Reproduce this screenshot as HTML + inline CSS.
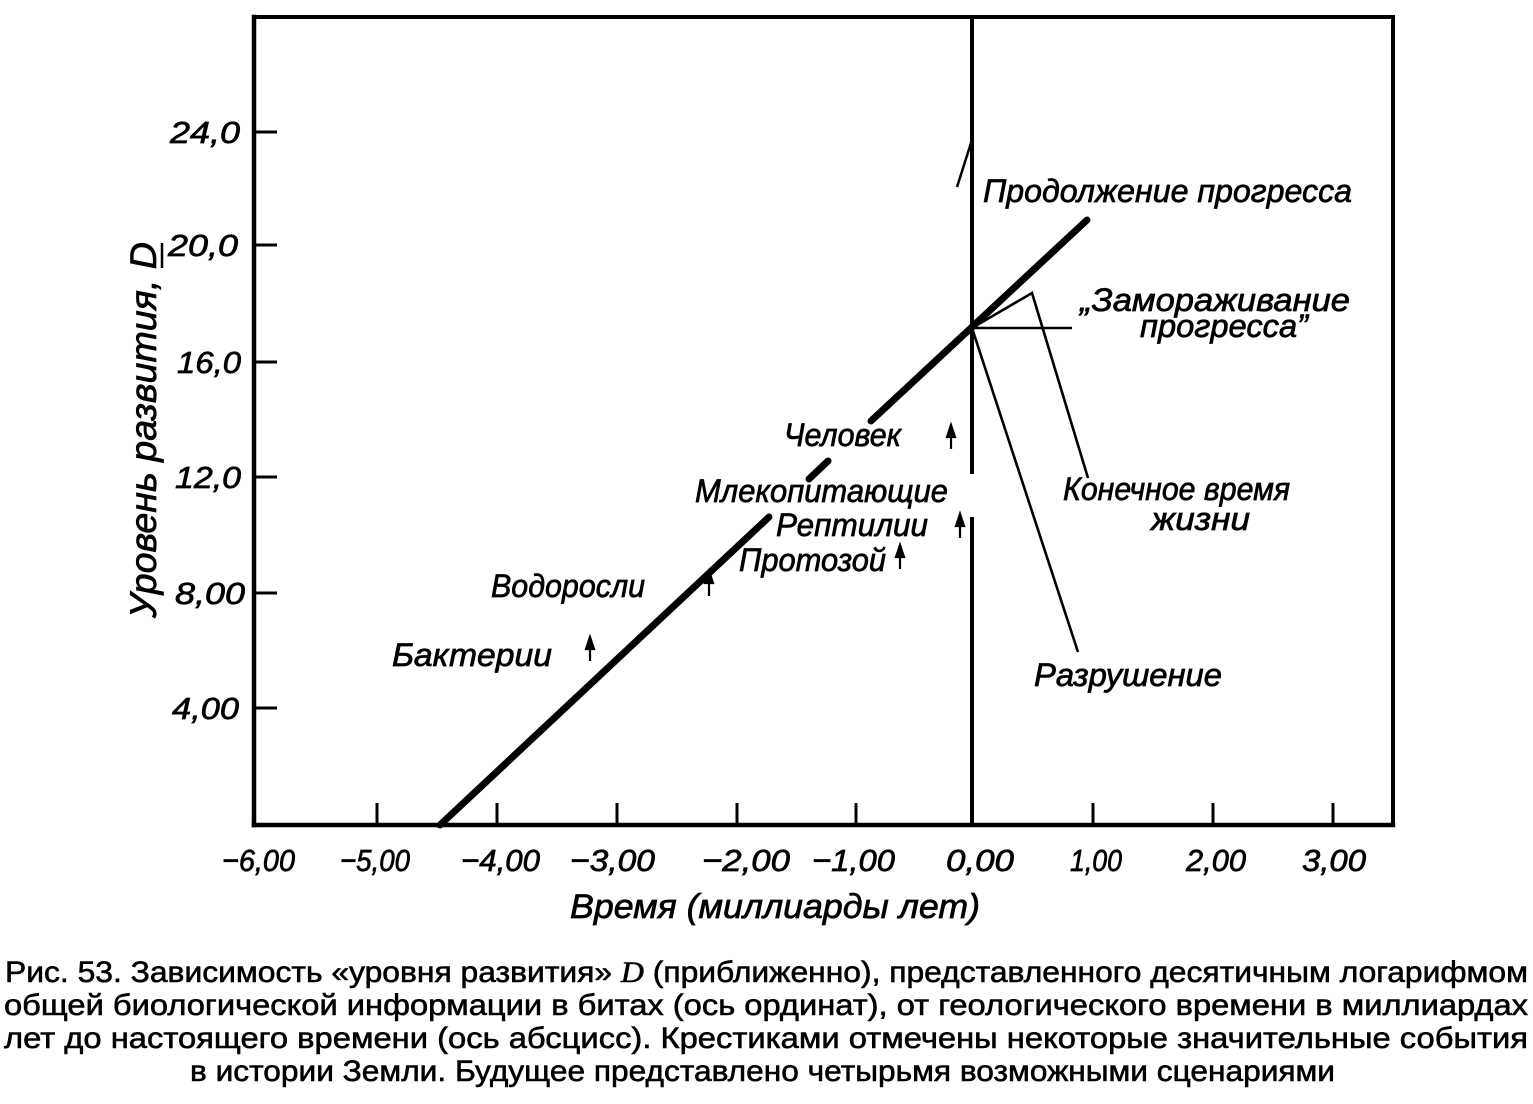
<!DOCTYPE html>
<html>
<head>
<meta charset="utf-8">
<style>
  html,body{margin:0;padding:0;background:#fff;}
  svg{display:block;}
  .lbl{font-family:"Liberation Sans","DejaVu Sans",sans-serif;font-style:italic;fill:#000;stroke:#000;stroke-width:0.7px;}
  .cap{font-family:"Liberation Sans","DejaVu Sans",sans-serif;fill:#000;stroke:#000;stroke-width:0.6px;}
</style>
</head>
<body>
<svg width="1533" height="1104" viewBox="0 0 1533 1104" xmlns="http://www.w3.org/2000/svg">
  <rect x="0" y="0" width="1533" height="1104" fill="#fff"/>

  <!-- frame -->
  <g stroke="#000" fill="none" stroke-linecap="square">
    <line x1="254" y1="17" x2="1393" y2="17" stroke-width="4"/>
    <line x1="254" y1="17" x2="254" y2="825" stroke-width="4.5"/>
    <line x1="1393" y1="17" x2="1393" y2="825" stroke-width="4"/>
    <line x1="254" y1="825" x2="1393" y2="825" stroke-width="4.5"/>
  </g>

  <!-- y ticks -->
  <g stroke="#000" stroke-width="3">
    <line x1="254" y1="132" x2="277" y2="132"/>
    <line x1="254" y1="245" x2="277" y2="245"/>
    <line x1="254" y1="362" x2="277" y2="362"/>
    <line x1="254" y1="477" x2="277" y2="477"/>
    <line x1="254" y1="593" x2="277" y2="593"/>
    <line x1="254" y1="708" x2="277" y2="708"/>
  </g>

  <!-- x ticks -->
  <g stroke="#000" stroke-width="3">
    <line x1="377" y1="825" x2="377" y2="803"/>
    <line x1="497" y1="825" x2="497" y2="803"/>
    <line x1="617" y1="825" x2="617" y2="803"/>
    <line x1="737" y1="825" x2="737" y2="803"/>
    <line x1="856" y1="825" x2="856" y2="803"/>
    <line x1="1093" y1="825" x2="1093" y2="803"/>
    <line x1="1213" y1="825" x2="1213" y2="803"/>
    <line x1="1333" y1="825" x2="1333" y2="803"/>
  </g>

  <!-- vertical line at t=0 -->
  <g stroke="#000" stroke-width="4">
    <line x1="972" y1="17" x2="972" y2="474"/>
    <line x1="972" y1="517" x2="972" y2="825"/>
  </g>
  <line x1="957" y1="187" x2="971" y2="143" stroke="#000" stroke-width="2.5"/>

  <!-- main thick line -->
  <g stroke="#000" stroke-width="7" stroke-linecap="round">
    <line x1="440" y1="825" x2="769" y2="517"/>
    <line x1="809" y1="479" x2="828" y2="461"/>
    <line x1="871" y1="421" x2="1087" y2="220"/>
  </g>

  <!-- scenario thin lines -->
  <g stroke="#000" stroke-width="2.6" fill="none">
    <polyline points="972,328 1032,293 1088,478"/>
    <line x1="972" y1="328" x2="1072" y2="328"/>
    <line x1="972" y1="328" x2="1078" y2="652"/>
  </g>

  <!-- event arrows -->
  <g stroke="#000" stroke-width="2.2" fill="#000">
    <line x1="590" y1="661" x2="590" y2="645"/>
    <polygon points="590,637 586,649 594,649"/>
    <line x1="709" y1="596" x2="709" y2="580"/>
    <polygon points="709,571 705,583 713,583"/>
    <line x1="900" y1="569" x2="900" y2="553"/>
    <polygon points="900,545 896,557 904,557"/>
    <line x1="960" y1="538" x2="960" y2="522"/>
    <polygon points="960,514 956,526 964,526"/>
    <line x1="951" y1="449" x2="951" y2="433"/>
    <polygon points="951,425 947,437 955,437"/>
  </g>

  <!-- y tick labels -->
  <g class="lbl" font-size="31">
    <text x="170" y="143" textLength="70" lengthAdjust="spacingAndGlyphs">24,0</text>
    <text x="168" y="256" textLength="70" lengthAdjust="spacingAndGlyphs">20,0</text>
    <text x="177" y="373" textLength="64" lengthAdjust="spacingAndGlyphs">16,0</text>
    <text x="175" y="488" textLength="66" lengthAdjust="spacingAndGlyphs">12,0</text>
    <text x="175" y="604" textLength="70" lengthAdjust="spacingAndGlyphs">8,00</text>
    <text x="172" y="719" textLength="67" lengthAdjust="spacingAndGlyphs">4,00</text>
  </g>

  <!-- x tick labels -->
  <g class="lbl" font-size="31">
    <text x="222" y="871" textLength="73" lengthAdjust="spacingAndGlyphs">−6,00</text>
    <text x="340" y="871" textLength="70" lengthAdjust="spacingAndGlyphs">−5,00</text>
    <text x="461" y="871" textLength="79" lengthAdjust="spacingAndGlyphs">−4,00</text>
    <text x="570" y="871" textLength="85" lengthAdjust="spacingAndGlyphs">−3,00</text>
    <text x="702" y="871" textLength="88" lengthAdjust="spacingAndGlyphs">−2,00</text>
    <text x="812" y="871" textLength="83" lengthAdjust="spacingAndGlyphs">−1,00</text>
    <text x="946" y="871" textLength="68" lengthAdjust="spacingAndGlyphs">0,00</text>
    <text x="1070" y="871" textLength="52" lengthAdjust="spacingAndGlyphs">1,00</text>
    <text x="1186" y="871" textLength="60" lengthAdjust="spacingAndGlyphs">2,00</text>
    <text x="1302" y="871" textLength="64" lengthAdjust="spacingAndGlyphs">3,00</text>
  </g>

  <!-- axis titles -->
  <text class="lbl" font-size="34" x="570" y="918" textLength="410" lengthAdjust="spacingAndGlyphs">Время (миллиарды лет)</text>
  <text class="lbl" font-size="37" transform="translate(156,618) rotate(-90)" textLength="376" lengthAdjust="spacingAndGlyphs">Уровень  развития, D</text>
  <line x1="162" y1="243" x2="162" y2="268" stroke="#000" stroke-width="2.5"/>

  <!-- in-plot labels -->
  <g class="lbl" font-size="32">
    <text x="983" y="202" textLength="369" lengthAdjust="spacingAndGlyphs">Продолжение прогресса</text>
    <text x="1080" y="311" textLength="270" lengthAdjust="spacingAndGlyphs">„Замораживание</text>
    <text x="1140" y="337" textLength="168" lengthAdjust="spacingAndGlyphs">прогресса”</text>
    <text x="784" y="446" textLength="117" lengthAdjust="spacingAndGlyphs">Человек</text>
    <text x="695" y="502" textLength="253" lengthAdjust="spacingAndGlyphs">Млекопитающие</text>
    <text x="776" y="536" textLength="152" lengthAdjust="spacingAndGlyphs">Рептилии</text>
    <text x="739" y="571" textLength="147" lengthAdjust="spacingAndGlyphs">Протозой</text>
    <text x="491" y="597" textLength="154" lengthAdjust="spacingAndGlyphs">Водоросли</text>
    <text x="392" y="666" textLength="160" lengthAdjust="spacingAndGlyphs">Бактерии</text>
    <text x="1063" y="500" textLength="227" lengthAdjust="spacingAndGlyphs">Конечное время</text>
    <text x="1151" y="530" textLength="99" lengthAdjust="spacingAndGlyphs">жизни</text>
    <text x="1034" y="686" textLength="188" lengthAdjust="spacingAndGlyphs">Разрушение</text>
  </g>

  <!-- caption -->
  <g class="cap" font-size="30">
    <text x="5" y="982" textLength="1523" lengthAdjust="spacingAndGlyphs">Рис. 53. Зависимость «уровня развития» <tspan font-style="italic" font-family="Liberation Serif, serif">D</tspan> (приближенно), представленного десятичным логарифмом</text>
    <text x="4" y="1015" textLength="1524" lengthAdjust="spacingAndGlyphs">общей биологической информации в битах (ось ординат), от геологического времени в миллиардах</text>
    <text x="4" y="1048" textLength="1524" lengthAdjust="spacingAndGlyphs">лет до настоящего времени (ось абсцисс). Крестиками отмечены некоторые значительные события</text>
    <text x="190" y="1081" textLength="1145" lengthAdjust="spacingAndGlyphs">в истории Земли. Будущее представлено четырьмя возможными сценариями</text>
  </g>
</svg>
</body>
</html>
